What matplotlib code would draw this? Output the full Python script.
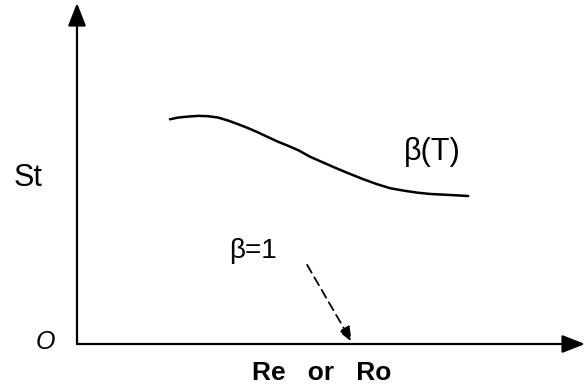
import numpy as np
import matplotlib
matplotlib.use("Agg")
from matplotlib import pyplot as plt

plt.rcParams['font.family'] = ['Liberation Sans', 'DejaVu Sans']

# St vs Re for the variable-property case beta(T), arbitrary units
re_vals = [1.83, 1.99, 2.19, 2.39, 2.58, 2.78, 2.98, 3.18, 3.37, 3.57,
           3.77, 3.96, 4.16, 4.36, 4.59, 4.85, 5.11, 5.37, 5.64, 5.90,
           6.16, 6.42, 6.69, 6.95, 7.21, 7.47, 7.70]
st_vals = [6.59, 6.64, 6.67, 6.69, 6.68, 6.64, 6.55, 6.44, 6.33, 6.20,
           6.06, 5.93, 5.81, 5.68, 5.49, 5.32, 5.15, 4.99, 4.83, 4.69,
           4.57, 4.50, 4.44, 4.40, 4.38, 4.36, 4.34]

# beta = 1 case lies on the axis; label and pointer
beta1_label = (3.46, 2.73)
beta1_target = (5.41, 0.06)
beta1_start = (4.53, 2.32)

fig = plt.figure(figsize=(5.87, 3.9), dpi=100)
ax = fig.add_axes([77 / 587, 46 / 390, 508 / 587, 341 / 390])
ax.set_xlim(0, 10)
ax.set_ylim(0, 10)
ax.axis('off')

# axes drawn as arrows
arrow_kw = dict(arrowstyle='-|>,head_length=1.4,head_width=0.55',
                color='black', lw=1.6, shrinkA=0, shrinkB=0)
ax.annotate('', xy=(0, 10), xytext=(0, 0), xycoords='data',
            arrowprops=arrow_kw, annotation_clip=False)
ax.annotate('', xy=(10, 0), xytext=(0, 0), xycoords='data',
            arrowprops=arrow_kw, annotation_clip=False)

ax.plot(re_vals, st_vals, color='black', lw=1.8,
        solid_capstyle='round', solid_joinstyle='round')

ax.annotate('', xy=beta1_target, xytext=beta1_start,
            arrowprops=dict(arrowstyle='-|>,head_length=0.9,head_width=0.36',
                            color='black', lw=1.3, linestyle=(0, (5, 3)),
                            shrinkA=0, shrinkB=0))

ax.text(*beta1_label, 'β=1', fontsize=20, ha='center', va='center')
ax.text(6.99, 5.63, 'β(T)', fontsize=22, ha='center', va='center')
ax.text(-0.96, 4.87, 'St', fontsize=22, ha='center', va='center', clip_on=False)
ax.text(-0.63, 0.06, 'O', fontsize=18, style='italic', ha='center', va='center',
        clip_on=False)
ax.text(4.82, -0.85, 'Re   or   Ro', fontsize=19, fontweight='bold',
        ha='center', va='center', clip_on=False)

fig.savefig('out.png', dpi=100, facecolor='white')
